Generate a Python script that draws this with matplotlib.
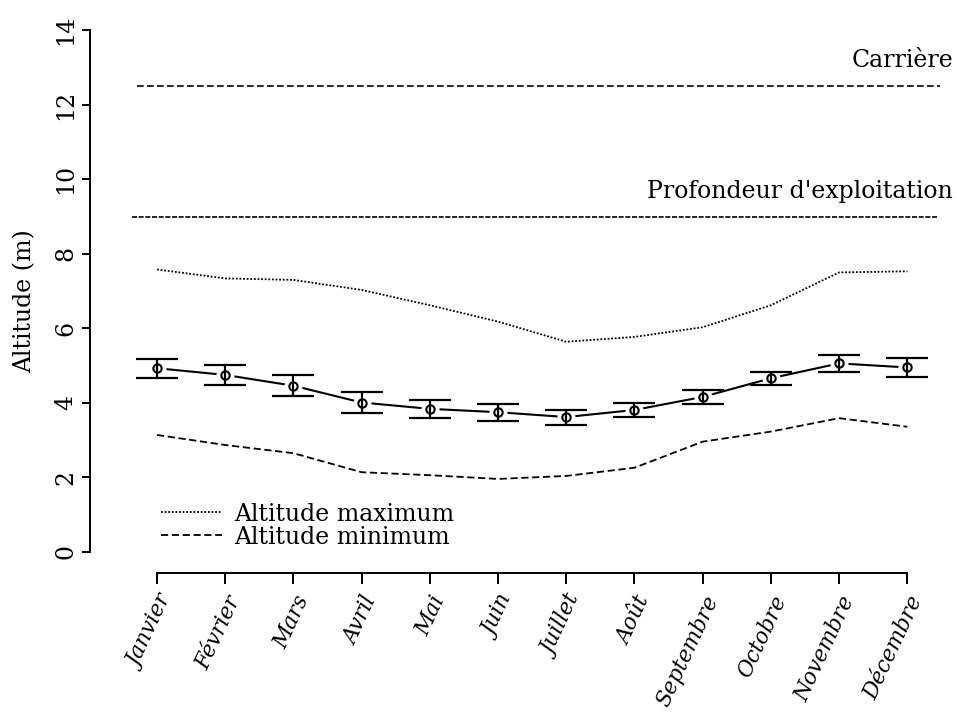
import numpy as np
import matplotlib
matplotlib.use("Agg")
import matplotlib.pyplot as plt

plt.rcParams['font.family'] = ['DejaVu Serif']

# données
mois = ['Janvier', 'Février', 'Mars', 'Avril', 'Mai', 'Juin', 'Juillet',
        'Août', 'Septembre', 'Octobre', 'Novembre', 'Décembre']
alt_moy = [4.93, 4.75, 4.46, 4.01, 3.84, 3.75, 3.62, 3.81, 4.16, 4.66, 5.06, 4.95]
alt_err = [0.25, 0.26, 0.28, 0.28, 0.24, 0.23, 0.20, 0.19, 0.19, 0.18, 0.22, 0.25]
alt_max = [7.58, 7.34, 7.30, 7.03, 6.62, 6.18, 5.64, 5.77, 6.03, 6.62, 7.50, 7.53]
alt_min = [3.14, 2.87, 2.65, 2.14, 2.06, 1.96, 2.04, 2.26, 2.96, 3.23, 3.59, 3.36]
carriere = 12.5
profondeur = 9.0

fs = 17
x = np.arange(1, 13)

fig = plt.figure(figsize=(9.57, 7.18), dpi=100)
ax = fig.add_axes([0.094, 0.202, 0.899, 0.756])

# lignes de référence
ax.hlines(carriere, 0.7, 12.48, colors='k', lw=1.2, linestyles=(0, (4, 2)))
ax.hlines(profondeur, 0.64, 12.44, colors='k', lw=1.2, linestyles=(0, (3, 1)))
ax.text(12.67, carriere + 0.37, 'Carrière', ha='right', va='bottom', fontsize=fs)
ax.text(12.67, profondeur + 0.37, "Profondeur d'exploitation", ha='right', va='bottom', fontsize=fs)

# courbes max / min
l1, = ax.plot(x, alt_max, color='k', lw=1.3, ls=(0, (1, 1)), label='Altitude maximum')
l2, = ax.plot(x, alt_min, color='k', lw=1.3, ls=(0, (4, 2)), label='Altitude minimum')

# moyenne avec type "b" (lignes interrompues autour des points)
ax.plot(x, alt_moy, color='k', lw=1.5, zorder=3)
ax.plot(x, alt_moy, ls='none', marker='o', ms=12, mfc='white', mec='white', zorder=4)
ax.errorbar(x, alt_moy, yerr=alt_err, fmt='none', ecolor='k', elinewidth=1.6,
            capsize=15, capthick=1.6, zorder=5)
ax.plot(x, alt_moy, ls='none', marker='o', ms=6, mfc='none', mec='k', mew=1.5, zorder=6)

ax.legend(handles=[l1, l2], loc='lower left', bbox_to_anchor=(0.082, 0.045),
          frameon=False, fontsize=fs, handlelength=2.6, handletextpad=0.5,
          labelspacing=0.0, borderpad=0, borderaxespad=0)

# axes style R
ax.set_xlim(0.017, 12.63)
ax.set_ylim(-0.563, 14)
for s in ['top', 'right']:
    ax.spines[s].set_visible(False)
ax.spines['left'].set_bounds(0, 14)
ax.spines['bottom'].set_bounds(1, 12)
ax.spines['left'].set_linewidth(1.4)
ax.spines['bottom'].set_linewidth(1.4)

ax.set_yticks(range(0, 15, 2))
ax.set_yticklabels([str(v) for v in range(0, 15, 2)], rotation=90, va='center', fontsize=fs)
ax.tick_params(axis='y', length=6, width=1.4, pad=3)
ax.set_xticks(x)
ax.set_xticklabels(mois, rotation=65, ha='right', rotation_mode='anchor',
                   fontsize=15.5, style='italic')
ax.tick_params(axis='x', length=8, width=1.4, pad=6)
ax.set_ylabel('Altitude (m)', fontsize=fs, labelpad=13)

fig.savefig('out.png', dpi=100)
